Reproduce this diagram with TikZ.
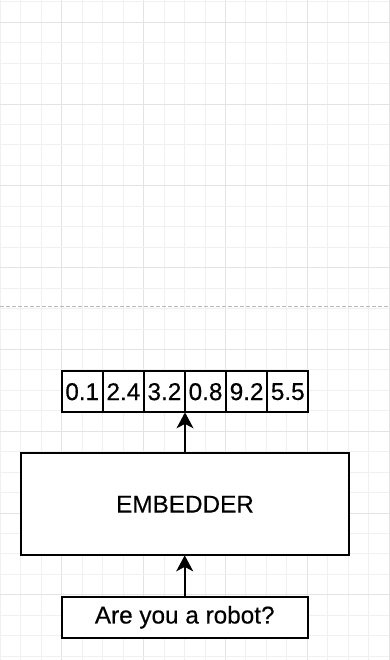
\documentclass[tikz,border=0pt]{standalone}
\usepackage{fontspec}
\setmainfont{Liberation Sans}[BoldFont=Liberation Sans, BoldFeatures={FakeBold=0.4}]
\usetikzlibrary{arrows.meta}
\begin{document}
\begin{tikzpicture}[x=1pt,y=-1pt,
  gridminor/.style={draw=black!6, line width=1pt},
  gridmajor/.style={draw=black!11, line width=1pt},
  box/.style={draw=black, fill=white, line width=1.8pt, rectangle, inner sep=0pt, outer sep=0pt,
    font=\fontsize{24.3}{29}\selectfont\bfseries},
  cell/.style={box, minimum width=41.1pt, minimum height=41.3pt},
  arr/.style={draw=black, line width=1.8pt, -{Stealth[length=16pt,width=17pt,inset=4.5pt]}}]
  \useasboundingbox (0,0) rectangle (389,660);
  \fill[white] (0,0) rectangle (389,660);
  % background grid
  \foreach \i in {0,...,19} {
    \pgfmathsetmacro{\gx}{0.5+20.45*\i}
    \pgfmathtruncatemacro{\m}{mod(\i,4)}
    \ifnum\m=3 \draw[gridmajor] (\gx,0) -- (\gx,660); \else \draw[gridminor] (\gx,0) -- (\gx,660); \fi
  }
  \foreach \j in {0,...,32} {
    \pgfmathsetmacro{\gy}{1.8+20.45*\j}
    \pgfmathtruncatemacro{\m}{mod(\j,4)}
    \ifnum\m=1 \draw[gridmajor] (0,\gy) -- (389,\gy); \else \draw[gridminor] (0,\gy) -- (389,\gy); \fi
  }
  % page break marker
  \draw[black!28, line width=1pt, dash pattern=on 3.5pt off 2.5pt] (0,306) -- (389,306);
  % embedding vector
  \node[cell] (v1) at (82.25,391.7) {0.1};
  \node[cell] (v2) at (123.35,391.7) {2.4};
  \node[cell] (v3) at (164.45,391.7) {3.2};
  \node[cell] (v4) at (205.55,391.7) {0.8};
  \node[cell] (v5) at (246.65,391.7) {9.2};
  \node[cell] (v6) at (287.75,391.7) {5.5};
  % embedder block and input sentence
  \node[box, minimum width=328.6pt, minimum height=102.3pt] (emb) at (185,504.2) {EMBEDDER};
  \node[box, minimum width=246pt, minimum height=41pt] (inp) at (184.7,617.2) {Are you a robot?};
  % data flow
  \draw[arr] (inp.north) -- (inp.north |- emb.south);
  \draw[arr] (emb.north) -- (emb.north |- v3.south);
\end{tikzpicture}
\end{document}
